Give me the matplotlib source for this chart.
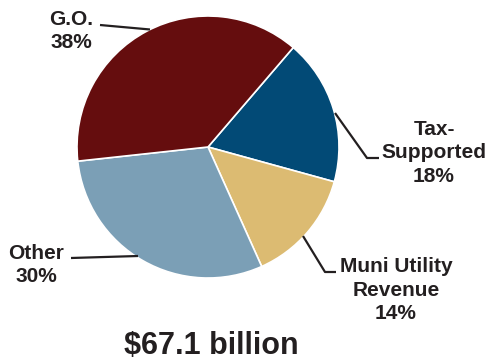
import matplotlib.pyplot as plt

# Share of total debt by category
labels = ['Tax-\nSupported\n18%', 'Muni Utility\nRevenue\n14%', 'Other\n30%', 'G.O.\n38%']
shares = [18, 14, 30, 38]
colors = ['#024a76', '#dcbb72', '#7b9fb6', '#650d0e']
total_label = '$67.1 billion'

plt.rcParams['font.family'] = ['Liberation Sans', 'DejaVu Sans']

fig = plt.figure(figsize=(4.9, 3.63), dpi=100)
ax = fig.add_axes([0, 0, 1, 1])

H = 363
cx, cy, r = 208, H - 147, 131

ax.pie(shares, colors=colors, startangle=49.4, counterclock=False,
       center=(cx, cy), radius=r, frame=True,
       wedgeprops=dict(edgecolor='white', linewidth=1.2))
ax.set_xlim(0, 490)
ax.set_ylim(0, 363)
ax.axis('off')

text_kw = dict(fontsize=15, fontweight='bold', color='#231f20',
               ha='center', va='center', linespacing=1.33)

# label positions and leader lines
label_pos = [(434, 153), (396, 290), (36, 265), (71, 31)]
leaders = [
    [(335, 113), (367, 158), (379, 158)],
    [(303, 236), (325, 272), (336, 272)],
    [(71, 258), (138, 256)],
    [(100, 25), (150, 29.5)],
]
for lab, (lx, ly), pts in zip(labels, label_pos, leaders):
    ax.text(lx, H - ly, lab, **text_kw)
    xs = [p[0] for p in pts]
    ys = [H - p[1] for p in pts]
    ax.plot(xs, ys, color='#231f20', lw=1.6, solid_capstyle='butt')

ax.text(211, H - 346, total_label, fontsize=22, fontweight='bold',
        color='#231f20', ha='center', va='center')

fig.savefig('out.png', dpi=100)
